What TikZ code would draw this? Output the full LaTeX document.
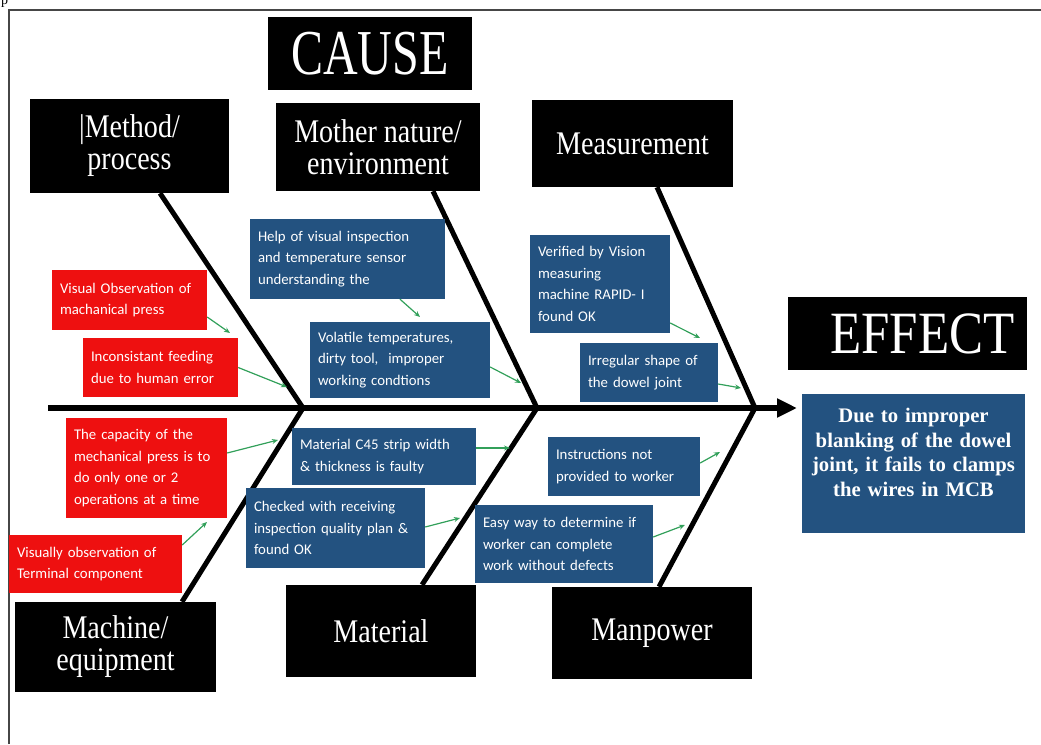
\documentclass[tikz,border=0pt]{standalone}
\usepackage{fontspec}
\setmainfont{Liberation Serif}
\newfontfamily\hdrfont[FakeStretch=0.85]{Liberation Serif}
\newfontfamily\causefont[FakeStretch=0.75]{Liberation Serif}
\newfontfamily\boxfont{Carlito}
\usetikzlibrary{arrows.meta,calc}
\definecolor{fbblue}{RGB}{35,82,128}
\definecolor{fbred}{RGB}{238,16,16}
\definecolor{fbgreen}{RGB}{50,160,90}
\definecolor{framegray}{RGB}{70,70,70}
\pgfdeclarelayer{bg}
\pgfsetlayers{bg,main}
\begin{document}
\begin{tikzpicture}[x=1pt,y=-1pt,
  hdr/.style={fill=black, text=white, inner sep=0pt, align=center,
    font=\hdrfont\fontsize{33}{32}\selectfont},
  redbox/.style={fill=fbred, text=white, inner xsep=8pt, inner ysep=0pt,
    align=left, font=\boxfont\fontsize{14.8}{21.7}\selectfont},
  bluebox/.style={redbox, fill=fbblue},
  bone/.style={line width=5pt},
  garrow/.style={draw=fbgreen, line width=1.2pt, -{Stealth[length=6pt,width=5pt]}},
]
\useasboundingbox (0,0) rectangle (1041,744);

% page fragment
\node[font=\fontsize{14}{14}\selectfont, anchor=base west, inner sep=0pt] (pg) at (1,5) {p};

% headers
\node[hdr, minimum width=204pt, minimum height=73pt, font=\causefont\fontsize{64}{64}\selectfont] (cause) at (370,53.5) {CAUSE};
\node[hdr, minimum width=199pt, minimum height=94pt] (method) at (129.5,146) {|Method/\\process};
\node[hdr, minimum width=204pt, minimum height=88pt] (mother) at (378,147) {Mother nature/\\environment};
\node[hdr, minimum width=201pt, minimum height=87pt] (meas) at (632.5,143.5) {Measurement};
\node[hdr, minimum width=239pt, minimum height=73pt, font=\hdrfont\fontsize{60}{60}\selectfont] (effect) at (907.5,333.5) {\hspace*{30pt}EFFECT};
\node[fill=fbblue, text=white, inner xsep=2pt, inner ysep=0pt, text width=219pt, minimum height=139pt,
  align=center, font=\fontsize{20.7}{24.5}\selectfont\bfseries] (effdesc) at (913.5,463.5)
  {Due to improper\\blanking of the dowel\\joint, it fails to clamps\\the wires in MCB\\[-2.5pt]\mbox{}};
\node[hdr, minimum width=201pt, minimum height=90pt] (machine) at (115.5,647) {Machine/\\equipment};
\node[hdr, minimum width=190pt, minimum height=92pt] (material) at (381,631) {Material};
\node[hdr, minimum width=200pt, minimum height=92pt] (manpower) at (652,633) {Manpower};

% red boxes
\node[redbox, text width=139pt, minimum height=60pt] (vo) at (129.5,300) {Visual Observation of\\machanical press};
\node[redbox, text width=139pt, minimum height=59pt] (inc) at (160.5,367.5) {Inconsistant feeding\\due to human error};
\node[redbox, text width=145pt, minimum height=100pt] (cap) at (146.5,468) {The capacity of the\\mechanical press is to\\do only one or 2\\operations at a time};
\node[redbox, text width=157pt, minimum height=58pt] (vis) at (95.5,564) {Visually observation of\\Terminal component};

% blue boxes
\node[bluebox, text width=179pt, minimum height=80pt] (help) at (347.5,259) {Help of visual inspection\\and temperature sensor\\understanding the};
\node[bluebox, text width=164pt, minimum height=76pt] (vol) at (400,360) {Volatile temperatures,\\dirty tool,~ improper\\working condtions};
\node[bluebox, text width=124pt, minimum height=98pt] (ver) at (600,284) {Verified by Vision\\measuring\\machine RAPID- I\\found OK};
\node[bluebox, text width=122pt, minimum height=59pt] (irr) at (649,372.5) {Irregular shape of\\the dowel joint};
\node[bluebox, text width=168pt, minimum height=57pt] (mat) at (384,456.5) {Material C45 strip width\\\& thickness is faulty};
\node[bluebox, text width=163pt, minimum height=80pt] (chk) at (335.5,528) {Checked with receiving\\inspection quality plan \&\\found OK};
\node[bluebox, text width=136pt, minimum height=59pt] (ins) at (624,466.5) {Instructions not\\provided to worker};
\node[bluebox, text width=162pt, minimum height=78pt] (easy) at (564,544) {Easy way to determine if\\worker can complete\\work without defects};

% spine coordinates
\coordinate (tail) at (48,408);
\coordinate (head) at (797,408);
\coordinate (j1) at (303,408);
\coordinate (j2) at (537,408);
\coordinate (j3) at (755,408);

\begin{pgfonlayer}{bg}
  % frame
  \draw[framegray, line width=2pt] (9,744) -- (9,10) -- (1041,10);
  % spine
  \draw[line width=6pt, -{Triangle[length=20pt,width=18pt]}] (tail) -- (head);
  % bones
  \draw[bone] ([xshift=30.5pt]method.south) -- (j1);
  \draw[bone] ([xshift=55pt]mother.south) -- (j2);
  \draw[bone] ([xshift=24.5pt]meas.south) -- (j3);
  \draw[bone] ([xshift=66.5pt]machine.north) -- (j1);
  \draw[bone] ([xshift=41pt]material.north) -- (j2);
  \draw[bone] ([xshift=7pt]manpower.north) -- (j3);
\end{pgfonlayer}

% green arrow end points
\coordinate (a1) at (230,333);
\coordinate (a2) at (287,387);
\coordinate (a3) at (278,440);
\coordinate (a4) at (207,522);
\coordinate (a5) at (420,317);
\coordinate (a6) at (521,383);
\coordinate (a7) at (700,338);
\coordinate (a8) at (741,388);
\coordinate (a9) at (510,448);
\coordinate (a10) at (460,518);
\coordinate (a11) at (720,452);
\coordinate (a12) at (685,525);

\draw[garrow] ([yshift=-17pt]vo.east) -- (a1);
\draw[garrow] (inc.east) -- (a2);
\draw[garrow] ([yshift=15pt]cap.east) -- (a3);
\draw[garrow] ([yshift=19pt]vis.east) -- (a4);
\draw[garrow] ([xshift=52.5pt]help.south) -- (a5);
\draw[garrow] ([yshift=-7pt]vol.east) -- (a6);
\draw[garrow] ([yshift=-39pt]ver.east) -- (a7);
\draw[garrow] ([yshift=-11.5pt]irr.east) -- (a8);
\draw[garrow] ([yshift=8.5pt]mat.east) -- (a9);
\draw[garrow] ([yshift=1pt]chk.east) -- (a10);
\draw[garrow] ([yshift=3.5pt]ins.east) -- (a11);
\draw[garrow] ([yshift=7pt]easy.east) -- (a12);
\end{tikzpicture}
\end{document}
